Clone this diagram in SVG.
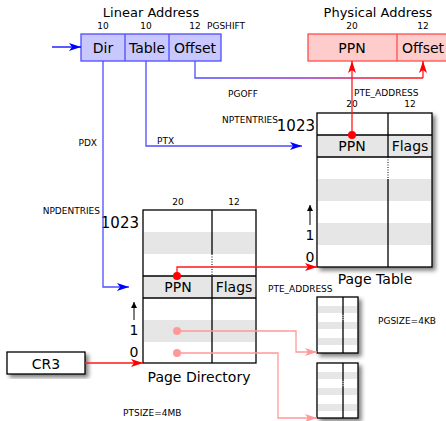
<svg xmlns="http://www.w3.org/2000/svg" width="446" height="421" viewBox="0 0 446 421">
<style>
text{font-family:"DejaVu Sans",sans-serif;fill:#000}
.t13{font-size:13px}
.t14{font-size:14px}
.t9{font-size:9px}
.t10{font-size:10px}
.t15{font-size:15px}
.mid{text-anchor:middle}
.end{text-anchor:end}
.tb{fill:#fff;stroke:#000;stroke-width:1.3}
.gr{fill:#e6e6e6;stroke:none}
.ln{stroke:#000;stroke-width:1.3;fill:none}
.blue{stroke:#4d4dff;stroke-width:1.3;fill:none}
.red{stroke:#ff1a1a;stroke-width:1.3;fill:none}
.pink{stroke:#ff9999;stroke-width:1.3;fill:none}
</style>
<defs>
<marker id="ab" markerWidth="12" markerHeight="8" refX="12" refY="4" orient="auto" markerUnits="userSpaceOnUse"><path d="M0,0 L12,4 L0,8 L3,4 Z" fill="#0000ff"/></marker>
<marker id="ar" markerWidth="12" markerHeight="8" refX="12" refY="4" orient="auto" markerUnits="userSpaceOnUse"><path d="M0,0 L12,4 L0,8 L3,4 Z" fill="#ff0000"/></marker>
<marker id="ap" markerWidth="12" markerHeight="8" refX="12" refY="4" orient="auto" markerUnits="userSpaceOnUse"><path d="M0,0 L12,4 L0,8 L3,4 Z" fill="#ff9999"/></marker>
<marker id="ak" markerWidth="6" markerHeight="8" refX="6" refY="3" orient="auto" markerUnits="userSpaceOnUse"><path d="M0,0 L6,3 L0,6 Z" fill="#000"/></marker>
<linearGradient id="gOff" gradientUnits="userSpaceOnUse" x1="195" y1="0" x2="423" y2="0">
<stop offset="0" stop-color="#4d4dff"/><stop offset="0.5" stop-color="#9933cc"/><stop offset="0.85" stop-color="#ff1a1a"/>
</linearGradient>
<filter id="sh" x="-10%" y="-10%" width="130%" height="130%"><feGaussianBlur in="SourceAlpha" stdDeviation="2"/><feOffset dx="3" dy="3"/><feComponentTransfer><feFuncA type="linear" slope="0.5"/></feComponentTransfer><feMerge><feMergeNode/><feMergeNode in="SourceGraphic"/></feMerge></filter>
</defs>

<g id="linear-address">
<text x="151" y="17" class="t13 mid">Linear Address</text>
<text x="103" y="29" class="t9 mid">10</text>
<text x="146" y="29" class="t9 mid">10</text>
<text x="195" y="29" class="t9 mid">12</text>
<text x="207" y="29" class="t9">PGSHIFT</text>
<rect x="81" y="34" width="140" height="27" fill="#c8c8ff" stroke="#4d4dff" stroke-width="1.3"/>
<line x1="125" y1="34" x2="125" y2="61" class="blue"/>
<line x1="169" y1="34" x2="169" y2="61" class="blue"/>
<text x="103" y="53" class="t14 mid">Dir</text>
<text x="147" y="53" class="t14 mid">Table</text>
<text x="195" y="53" class="t14 mid">Offset</text>
</g>

<g id="physical-address">
<text x="378" y="17" class="t13 mid">Physical Address</text>
<text x="352" y="29" class="t9 mid">20</text>
<text x="423" y="29" class="t9 mid">12</text>
<rect x="308" y="34" width="142" height="27" fill="#ffcccc" stroke="#ff4d4d" stroke-width="1.3"/>
<line x1="397" y1="34" x2="397" y2="61" stroke="#ff4d4d" stroke-width="1.3"/>
<text x="352" y="53" class="t14 mid">PPN</text>
<text x="423" y="53" class="t14 mid">Offset</text>
</g>

<g id="page-table">
<g filter="url(#sh)">
<rect x="317" y="113" width="115" height="154" class="tb"/>
</g>
<rect x="318" y="135" width="113" height="22" class="gr"/>
<rect x="318" y="179" width="113" height="22" class="gr"/>
<rect x="318" y="223" width="113" height="22" class="gr"/>
<line x1="317" y1="135" x2="432" y2="135" class="ln"/>
<line x1="317" y1="157" x2="432" y2="157" class="ln"/>
<line x1="388" y1="113" x2="388" y2="157" class="ln"/>
<line x1="388" y1="157" x2="388" y2="179" stroke="#000" stroke-width="1" stroke-dasharray="1,1.5"/>
<line x1="388" y1="179" x2="388" y2="267" class="ln"/>
<text x="352" y="107" class="t9 mid">20</text>
<text x="410" y="107" class="t9 mid">12</text>
<text x="352" y="151" class="t14 mid">PPN</text>
<text x="410" y="151" class="t14 mid">Flags</text>
<text x="315" y="131" class="t15 end">1023</text>
<text x="278" y="123" class="t9 end">NPTENTRIES</text>
<text x="310" y="262" class="t14 mid">0</text>
<text x="310" y="240" class="t14 mid">1</text>
<line x1="310" y1="225" x2="310" y2="205" stroke="#000" stroke-width="1" marker-end="url(#ak)"/>
<text x="375" y="284" class="t14 mid">Page Table</text>
</g>

<g id="page-directory">
<rect x="143" y="210" width="113" height="153" class="tb"/>
<rect x="144" y="232" width="111" height="22" class="gr"/>
<rect x="144" y="276" width="111" height="22" class="gr"/>
<rect x="144" y="320" width="111" height="22" class="gr"/>
<line x1="143" y1="276" x2="256" y2="276" class="ln"/>
<line x1="143" y1="298" x2="256" y2="298" class="ln"/>
<line x1="212" y1="210" x2="212" y2="254" class="ln"/>
<line x1="212" y1="254" x2="212" y2="276" stroke="#000" stroke-width="1" stroke-dasharray="1,1.5"/>
<line x1="212" y1="276" x2="212" y2="363" class="ln"/>
<text x="178" y="205" class="t9 mid">20</text>
<text x="234" y="205" class="t9 mid">12</text>
<text x="178" y="292" class="t14 mid">PPN</text>
<text x="234" y="292" class="t14 mid">Flags</text>
<text x="139" y="228" class="t15 end">1023</text>
<text x="100" y="214" class="t9 end">NPDENTRIES</text>
<text x="134" y="357" class="t14 mid">0</text>
<text x="134" y="335" class="t14 mid">1</text>
<line x1="134" y1="320" x2="134" y2="302" stroke="#000" stroke-width="1" marker-end="url(#ak)"/>
<text x="199" y="382" class="t14 mid">Page Directory</text>
</g>

<g id="page-4kb-1">
<g filter="url(#sh)"><rect x="317" y="297" width="41" height="56" class="tb"/></g>
<rect x="318" y="306" width="39" height="7" class="gr"/>
<rect x="318" y="322" width="39" height="7" class="gr"/>
<rect x="318" y="338" width="39" height="7" class="gr"/>
<line x1="343" y1="297" x2="343" y2="353" class="ln"/>
<line x1="343" y1="315" x2="343" y2="320" stroke="#fff" stroke-width="1" stroke-dasharray="1,1"/>
</g>

<g id="page-4kb-2">
<g filter="url(#sh)"><rect x="317" y="363" width="41" height="55" class="tb"/></g>
<rect x="318" y="372" width="39" height="7" class="gr"/>
<rect x="318" y="388" width="39" height="7" class="gr"/>
<rect x="318" y="404" width="39" height="7" class="gr"/>
<line x1="343" y1="363" x2="343" y2="418" class="ln"/>
<line x1="343" y1="381" x2="343" y2="386" stroke="#fff" stroke-width="1" stroke-dasharray="1,1"/>
</g>

<g id="cr3">
<g filter="url(#sh)"><rect x="7" y="352" width="78" height="22" class="tb" stroke-width="1"/></g>
<text x="46" y="369" class="t14 mid">CR3</text>
</g>

<g id="labels">
<text x="97" y="146" class="t9 end">PDX</text>
<text x="157" y="144" class="t9">PTX</text>
<text x="228" y="97" class="t9">PGOFF</text>
<text x="354" y="96" class="t9">PTE_ADDRESS</text>
<text x="268" y="292" class="t9">PTE_ADDRESS</text>
<text x="378" y="324" class="t9">PGSIZE=4KB</text>
<text x="123" y="416" class="t9">PTSIZE=4MB</text>
</g>

<g id="connectors">
<line x1="52" y1="47" x2="81" y2="47" stroke="#0000ff" stroke-width="1.3" marker-end="url(#ab)"/>
<polyline points="103,61 103,287 129,287" class="blue" marker-end="url(#ab)"/>
<polyline points="146,61 146,146 302,146" class="blue" marker-end="url(#ab)"/>
<polyline points="195,61 195,78 423,78" fill="none" stroke="url(#gOff)" stroke-width="1.3"/>
<line x1="423" y1="78" x2="423" y2="61" class="red" marker-end="url(#ar)"/>
<line x1="352" y1="135" x2="352" y2="61" class="red" marker-end="url(#ar)"/>
<circle cx="352" cy="135" r="4" fill="#ff0000"/>
<polyline points="177,276 177,267 317,267" class="red" marker-end="url(#ar)"/>
<circle cx="177" cy="276" r="4" fill="#ff0000"/>
<polyline points="177,331 296,331 296,352 317,352" class="pink" marker-end="url(#ap)"/>
<circle cx="177" cy="331" r="4" fill="#ff9999"/>
<polyline points="177,353 278,353 278,418 317,418" class="pink" marker-end="url(#ap)"/>
<circle cx="177" cy="353" r="4" fill="#ff9999"/>
<line x1="85" y1="363" x2="143" y2="363" class="red" marker-end="url(#ar)"/>
</g>
</svg>
